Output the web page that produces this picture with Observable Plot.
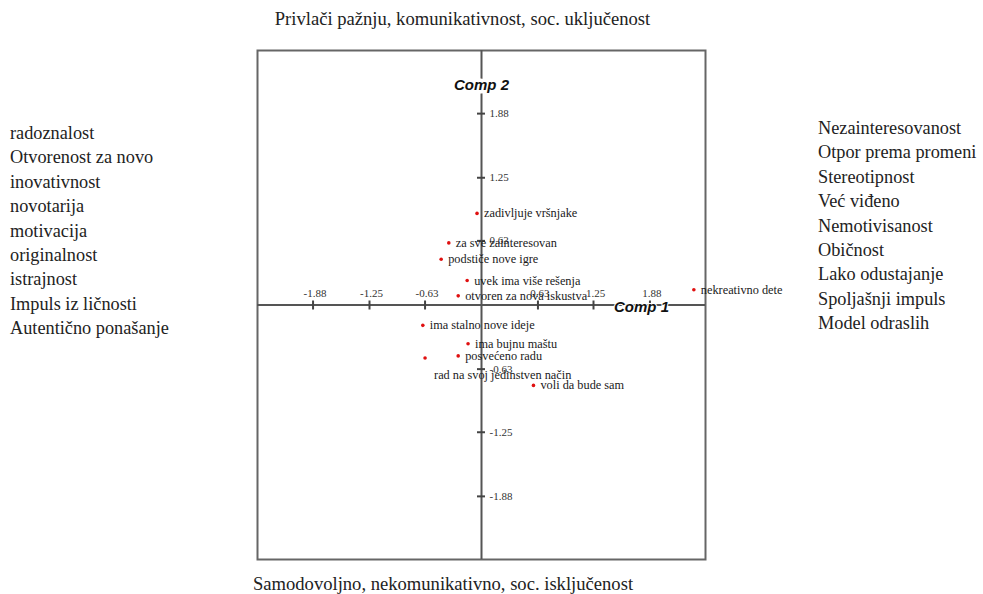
<!DOCTYPE html>
<html>
<head>
<meta charset="utf-8">
<script src="https://cdn.jsdelivr.net/npm/d3@7"></script>
<script src="https://cdn.jsdelivr.net/npm/@observablehq/plot@0.6"></script>
<style>
  html, body { margin: 0; padding: 0; background: #fff; }
  #wrap { position: relative; width: 983px; height: 594px; overflow: hidden; font-family: "Liberation Serif", "DejaVu Serif", serif; color: #222; }
  .title { position: absolute; left: 0; width: 925px; text-align: center; font-size: 18.6px; line-height: 22px; }
  .list { position: absolute; font-size: 18.3px; line-height: 24.4px; }
  #chart { position: absolute; left: 256px; top: 49px; }
</style>
</head>
<body>
<div id="wrap">
  <div class="title" id="top" style="top:8px;"></div>
  <div class="list" id="left" style="left:10px; top:121px;"></div>
  <div class="list" id="right" style="left:818px; top:116px;"></div>
  <div id="chart"></div>
  <div class="title" id="bottom" style="top:573px; width:886px;"></div>
</div>
<script>
// Chart texts
const topTitle = "Privlači pažnju, komunikativnost, soc. uključenost";
const bottomTitle = "Samodovoljno, nekomunikativno, soc. isključenost";
const leftTerms = ["radoznalost","Otvorenost za novo","inovativnost","novotarija","motivacija","originalnost","istrajnost","Impuls iz ličnosti","Autentično ponašanje"];
const rightTerms = ["Nezainteresovanost","Otpor prema promeni","Stereotipnost","Već viđeno","Nemotivisanost","Običnost","Lako odustajanje","Spoljašnji impuls","Model odraslih"];

// Points
const pointLabels = ["zadivljuje vršnjake","za sve zainteresovan","podstiče nove igre","uvek ima više rešenja","otvoren za nova iskustva","nekreativno dete","ima stalno nove ideje","ima bujnu maštu","posvećeno radu","rad na svoj jedinstven način","voli da bude sam"];
const comp1 = [-0.05,-0.365,-0.45,-0.16,-0.26,2.37,-0.655,-0.15,-0.26,-0.63,0.58];
const comp2 = [0.90,0.61,0.45,0.24,0.09,0.15,-0.20,-0.38,-0.50,-0.52,-0.79];

// Axis ticks
const tickValues = [-1.88,-1.25,-0.63,0.63,1.25,1.88];
const tickLabels = ["-1.88","-1.25","-0.63","0.63","1.25","1.88"];
const axisTitleX = "Comp 1";
const axisTitleY = "Comp 2";

document.getElementById("top").textContent = topTitle;
document.getElementById("bottom").textContent = bottomTitle;
document.getElementById("left").innerHTML = leftTerms.map(t => `<div>${t}</div>`).join("");
document.getElementById("right").innerHTML = rightTerms.map(t => `<div>${t}</div>`).join("");

const points = pointLabels.map((label, i) => ({label, c1: comp1[i], c2: comp2[i]}));
const ticks = tickValues.map((v, i) => ({v, label: tickLabels[i]}));
const special = "rad na svoj jedinstven način";

const serif = "Liberation Serif, Times New Roman, serif";
const sans = "Liberation Sans, Arial, sans-serif";
const plot = Plot.plot({
  width: 529,
  height: 511,
  marginLeft: 1, marginTop: 1, marginBottom: 1, marginRight: 80,
  x: {domain: [-2.5, 2.5], axis: null},
  y: {domain: [-2.5, 2.5], axis: null},
  style: {overflow: "visible", background: "transparent", fontFamily: serif},
  marks: [
    Plot.frame({stroke: "#666", strokeWidth: 2}),
    Plot.ruleX([0], {stroke: "#555", strokeWidth: 2}),
    Plot.ruleY([0], {stroke: "#555", strokeWidth: 2}),
    // ticks on x axis
    Plot.ruleX(ticks, {x: "v", y1: 0, y2: 0, insetTop: -4, insetBottom: -5, stroke: "#444", strokeWidth: 2}),
    // ticks on y axis
    Plot.ruleY(ticks, {y: "v", x1: 0, x2: 0, insetLeft: -4, insetRight: -4, stroke: "#444", strokeWidth: 2}),
    Plot.text(ticks, {x: "v", y: 0, text: "label", dy: -12, dx: 2, fontSize: 11, fontFamily: serif, fill: "#333"}),
    Plot.text(ticks, {x: 0, y: "v", text: "label", dx: 8, textAnchor: "start", fontSize: 11, fontFamily: serif, fill: "#333"}),
    // points
    Plot.dot(points, {x: "c1", y: "c2", r: 1.8, fill: "#e01010", stroke: "none"}),
    Plot.text(points.filter(d => d.label !== special), {x: "c1", y: "c2", text: "label", dx: 7, textAnchor: "start", fontSize: 12.3, fontFamily: serif, fill: "#1a1a1a"}),
    Plot.text(points.filter(d => d.label === special), {x: "c1", y: "c2", text: "label", dx: 9, dy: 17, textAnchor: "start", fontSize: 12.3, fontFamily: serif, fill: "#1a1a1a"}),
    // axis titles
    Plot.text([axisTitleY], {x: 0, frameAnchor: "top", text: d => d, dy: 29, fontSize: 15, fontWeight: "bold", fontStyle: "italic", fontFamily: sans, fill: "#111", stroke: "white", strokeWidth: 7, paintOrder: "stroke"}),
    Plot.text([axisTitleX], {y: 0, frameAnchor: "right", textAnchor: "middle", text: d => d, dx: -64, dy: 2, fontSize: 15, fontWeight: "bold", fontStyle: "italic", fontFamily: sans, fill: "#111", stroke: "white", strokeWidth: 2, paintOrder: "stroke"})
  ]
});
document.getElementById("chart").appendChild(plot);
</script>
</body>
</html>
